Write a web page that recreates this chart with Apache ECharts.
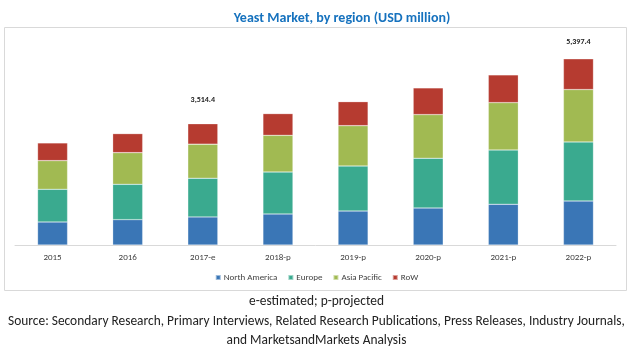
<!DOCTYPE html>
<html><head><meta charset="utf-8">
<script src="https://cdn.jsdelivr.net/npm/echarts@6/dist/echarts.min.js"></script>
<style>html,body{margin:0;padding:0;background:#fff}#c{width:633px;height:357px}</style>
</head><body><div id="c"></div>
<script>
const categories = ['2015','2016','2017-e','2018-p','2019-p','2020-p','2021-p','2022-p'];
const northAmerica = [667, 735, 813, 899, 985, 1073, 1180, 1276];
const europe = [948, 1024, 1122, 1217, 1305, 1441, 1575, 1712];
const asiaPacific = [831, 918, 988, 1063, 1169, 1266, 1372, 1518];
const row = [512, 551, 591.4, 629, 695, 773, 803, 891.4];
const totalLabels = [null, null, '3,514.4', null, null, null, null, '5,397.4'];
const labelLift = [0, 0, -15, 0, 0, 0, 0, -8];

const F = 'Carlito, "Liberation Sans Narrow", "Liberation Sans", sans-serif';
const chart = echarts.init(document.getElementById('c'), null, {renderer:'canvas'});
const mk = (name, data, color, withLabels) => ({
  name, type:'bar', stack:'t', barWidth:30, data: data.map((v,i)=>{
    if(withLabels && totalLabels[i]) return {value:v, label:{show:true, position:'top', formatter: totalLabels[i], offset:[0,labelLift[i]], fontSize:8, fontWeight:'bold', color:'#222', fontFamily:F}};
    return v;
  }),
  itemStyle:{color, borderColor:'rgba(255,255,255,0.5)', borderWidth:0.5},
  emphasis:{disabled:true}
});
chart.setOption({
  animation:false,
  title:{text:'Yeast Market, by region (USD million)', left:337, top:6, textAlign:'center',
    textStyle:{color:'#1672BE', fontSize:14, fontWeight:'bold', fontFamily:F}},
  legend:{bottom:70, left:'center', itemWidth:5, itemHeight:5, itemGap:10, icon:'rect',
    textStyle:{fontSize:9, color:'#404040', fontFamily:F, padding:[0,0,0,-2]},
    data:['North America','Europe','Asia Pacific','RoW']},
  grid:{left:15, right:17, top:38, bottom:112},
  xAxis:{type:'category', data:categories, axisTick:{show:false},
    axisLine:{lineStyle:{color:'#d9d9d9'}},
    axisLabel:{fontSize:9, color:'#404040', margin:8, fontFamily:F}},
  yAxis:{type:'value', min:0, max:6000, show:false, splitLine:{show:false}},
  series:[
    mk('North America', northAmerica, '#3A76B6'),
    mk('Europe', europe, '#3AAA8F'),
    mk('Asia Pacific', asiaPacific, '#A1BA52'),
    mk('RoW', row, '#B63B30', true)
  ],
  graphic:[
    {type:'rect', shape:{x:4.5, y:27.5, width:622, height:263}, style:{fill:'none', stroke:'#d9d9d9', lineWidth:1}, silent:true, z:-1},
    {type:'text', x:316.5, y:302, style:{text:'e-estimated; p-projected', textAlign:'center', textVerticalAlign:'middle', fontSize:13.4, fill:'#222', fontFamily:F}},
    {type:'text', x:316.5, y:322, style:{text:'Source: Secondary Research, Primary Interviews, Related Research Publications, Press Releases, Industry Journals,', textAlign:'center', textVerticalAlign:'middle', fontSize:13.4, fill:'#222', fontFamily:F}},
    {type:'text', x:316.5, y:341, style:{text:'and MarketsandMarkets Analysis', textAlign:'center', textVerticalAlign:'middle', fontSize:13.4, fill:'#222', fontFamily:F}}
  ]
});
</script></body></html>
